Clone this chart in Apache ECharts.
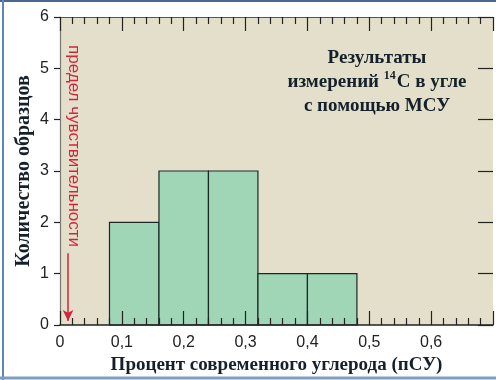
<!DOCTYPE html>
<html>
<head>
<meta charset="utf-8">
<script src="https://cdn.jsdelivr.net/npm/echarts@6/dist/echarts.min.js"></script>
<style>
  html, body { margin: 0; padding: 0; background: #fff; }
  #chart { width: 496px; height: 380px; }
</style>
</head>
<body>
<div id="chart"></div>
<script>
// данные гистограммы (границы интервалов и число образцов)
const binStart = [0.08, 0.16, 0.24, 0.32, 0.40]
const binEnd = [0.16, 0.24, 0.32, 0.40, 0.48]
const counts = [2, 3, 3, 1, 1]
// стрелка предела чувствительности
const limitX = 0.013
const arrowFrom = 1.4
const arrowTo = 0.08

const xName = 'Процент современного углерода (пСУ)'
const yName = 'Количество образцов'
const limitText = 'предел чувствительности'

const chart = echarts.init(document.getElementById('chart'))

const tickStyle = { color: '#222', width: 1.2 }

const option = {
  animation: false,
  grid: {
    left: 60, right: 2, top: 17, bottom: 55,
    show: true, backgroundColor: '#e3dfcb', borderWidth: 0,
  },
  xAxis: [
    {
      type: 'value', min: 0, max: 0.7, interval: 0.1, z: 10,
      axisLine: { onZero: false, lineStyle: { color: '#222', width: 1.5 } },
      axisTick: { inside: true, length: 14, lineStyle: tickStyle },
      minorTick: { show: true, splitNumber: 5, length: 7, lineStyle: tickStyle },
      splitLine: { show: false },
      axisLabel: {
        fontFamily: 'Liberation Sans', fontSize: 16, color: '#222', margin: 10,
        formatter: v => (v > 0.65 ? '' : String(+v.toFixed(1)).replace('.', ',')),
      },
      name: xName, nameLocation: 'middle', nameGap: 28,
      nameTextStyle: { fontFamily: 'Liberation Serif', fontWeight: 'bold', fontSize: 19, color: '#15202b' },
    },
    {
      type: 'value', position: 'top', min: 0, max: 0.7, interval: 0.1, z: 10,
      axisLine: { onZero: false, lineStyle: { color: '#555', width: 1.2 } },
      axisTick: { inside: true, length: 14, lineStyle: tickStyle },
      minorTick: { show: true, splitNumber: 5, length: 7, lineStyle: tickStyle },
      splitLine: { show: false },
      axisLabel: { show: false },
    },
  ],
  yAxis: [
    {
      type: 'value', min: 0, max: 6, interval: 1, z: 10,
      axisLine: { show: true, onZero: false, lineStyle: { color: '#777', width: 1.2 } },
      axisTick: { show: true, length: 6, lineStyle: tickStyle },
      splitLine: { show: false },
      axisLabel: { fontFamily: 'Liberation Sans', fontSize: 16, color: '#222', margin: 11 },
      name: yName, nameLocation: 'middle', nameGap: 26, nameMoveOverlap: false,
      nameTextStyle: { fontFamily: 'Liberation Serif', fontWeight: 'bold', fontSize: 20, color: '#15202b' },
    },
    {
      type: 'value', position: 'right', min: 0, max: 6, interval: 1, z: 10,
      axisLine: { show: false, onZero: false },
      axisTick: { show: true, inside: true, length: 15, lineStyle: tickStyle },
      splitLine: { show: false },
      axisLabel: { show: false },
    },
  ],
  series: [
    {
      type: 'custom',
      data: counts.map((c, i) => [binStart[i], binEnd[i], c]),
      renderItem: (params, api) => {
        const p0 = api.coord([api.value(0), api.value(2)])
        const p1 = api.coord([api.value(1), 0])
        return {
          type: 'rect',
          shape: { x: p0[0], y: p0[1], width: p1[0] - p0[0], height: p1[1] - p0[1] },
          style: { fill: '#a0d5b6', stroke: '#1c2828', lineWidth: 1.2 },
        }
      },
      markLine: {
        silent: true,
        symbol: ['none', 'arrow'],
        symbolSize: [8, 11],
        label: { show: false },
        lineStyle: { color: '#d0263c', width: 1.5, type: 'solid' },
        data: [[{ coord: [limitX, arrowFrom] }, { coord: [limitX, arrowTo] }]],
      },
    },
  ],
  graphic: [
    // рамка
    { type: 'line', shape: { x1: 0, y1: 1, x2: 496, y2: 1 }, style: { stroke: '#48698b', lineWidth: 2 } },
    { type: 'line', shape: { x1: 3, y1: 0, x2: 3, y2: 380 }, style: { stroke: '#5d87b6', lineWidth: 2 } },
    { type: 'line', shape: { x1: 0, y1: 378, x2: 496, y2: 378 }, style: { stroke: '#7d9ec2', lineWidth: 3 } },
    {
      type: 'text', x: 74, y: 45, rotation: -Math.PI / 2,
      style: {
        text: limitText, fill: '#d0263c', fontFamily: 'Liberation Sans', fontSize: 17,
        align: 'left', verticalAlign: 'middle',
      },
    },
    {
      type: 'text', x: 377, y: 46,
      style: {
        text: 'Результаты\nизмерений {sup|14}C в угле\nс помощью МСУ',
        fill: '#15202b', fontFamily: 'Liberation Serif', fontWeight: 'bold', fontSize: 19,
        lineHeight: 24, align: 'center',
        rich: {
          sup: { fontSize: 12, fontFamily: 'Liberation Serif', fontWeight: 'bold', fill: '#15202b', verticalAlign: 'top', padding: [0, 1, 8, 0] },
        },
      },
    },
  ],
}

chart.setOption(option)
</script>
</body>
</html>
